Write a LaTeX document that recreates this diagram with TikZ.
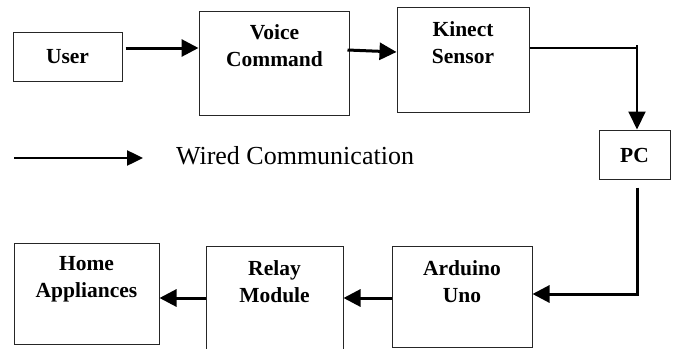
\documentclass[tikz,border=0pt]{standalone}
\usepackage{fontspec}
\setmainfont{Liberation Serif}
\usetikzlibrary{arrows.meta}
\tikzset{
  box/.style={draw=black!85, line width=1pt, inner sep=0pt, fill=none},
  lbl/.style={font=\fontsize{21.5}{27}\selectfont\bfseries, align=center, inner sep=0pt},
  arr/.style={line width=3pt, -{Triangle[length=17pt,width=17pt]}},
  arrthin/.style={line width=2pt, -{Triangle[length=18pt,width=17pt]}},
  wline/.style={line width=1.6pt},
}
\begin{document}
\begin{tikzpicture}[x=1pt,y=-1pt]
\useasboundingbox (0,0) rectangle (677,348);
% boxes
\node[box, minimum width=109pt, minimum height=49pt] (user) at (67.5,56.5) {};
\node[box, minimum width=150pt, minimum height=104pt] (voice) at (274,63) {};
\node[box, minimum width=132pt, minimum height=105pt] (kinect) at (463,59.5) {};
\node[box, minimum width=71pt, minimum height=49pt] (pc) at (634.5,154.5) {};
\node[box, minimum width=145pt, minimum height=101pt] (home) at (86.5,293.5) {};
\node[box, minimum width=137pt, minimum height=104pt] (relay) at (274.5,298) {};
\node[box, minimum width=140pt, minimum height=101pt] (arduino) at (462,296.5) {};
% labels
\node[lbl] (userl) at (67.5,56.5) {User};
\node[lbl] (voicel) at (274.5,45.5) {Voice\\Command};
\node[lbl] (kinectl) at (463,43) {Kinect\\Sensor};
\node[lbl] (pcl) at (634.5,155) {PC};
\node[lbl] (homel) at (86.5,279.5) {Home\\Appliances};
\node[lbl] (relayl) at (274.5,282) {Relay\\Module};
\node[lbl] (arduinol) at (462,281.5) {Arduino\\Uno};
% connectors
\draw[arr] ([shift={(3pt,8.5pt)}]user.east) -- ([yshift=15pt]voice.west);
\draw[arr] ([shift={(-2pt,13pt)}]voice.east) -- ([yshift=7.5pt]kinect.west);
\coordinate (t1) at (637,45);
\draw[wline] ([yshift=11.5pt]kinect.east) -| (t1);
\draw[arrthin] (t1) -- (t1 |- pc.north);
\draw[arr] ([xshift=2.5pt,yshift=-8pt]pc.south) |- ([yshift=2.5pt]arduino.east);
\draw[arr] ([yshift=-1.5pt]arduino.west) -- (relay.east);
\draw[arr] (relay.west) -- ([yshift=-4.5pt]home.east);
% legend
\coordinate (la) at (14,158);
\coordinate (lb) at (143,158);
\draw[line width=2.5pt, -{Triangle[length=16pt,width=15pt]}] (la) -- (lb);
\node[font=\fontsize{26}{30}\selectfont, inner sep=0pt] (legend) at (295,156) {Wired Communication};
\end{tikzpicture}
\end{document}
